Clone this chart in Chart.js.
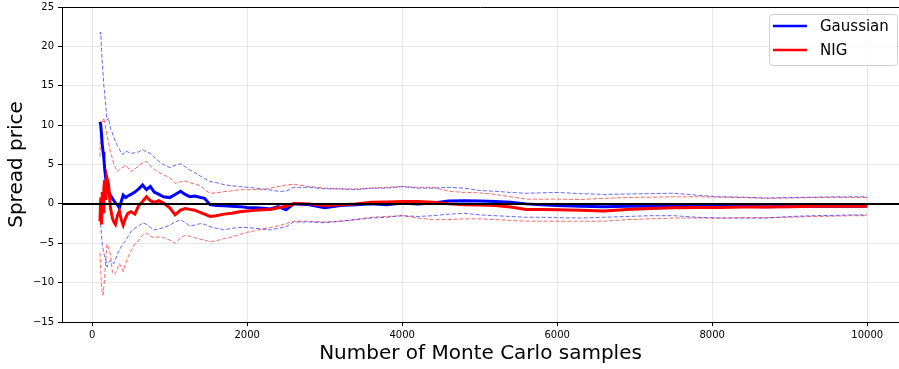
<!DOCTYPE html>
<html>
<head>
<meta charset="utf-8">
<script src="https://cdn.jsdelivr.net/npm/chart.js@4.4.0/dist/chart.umd.min.js"></script>
<style>
html, body { margin: 0; padding: 0; background: #fff; overflow: hidden; }
canvas { display: block; }
</style>
</head>
<body>
<canvas id="mc-chart" width="899" height="369"></canvas>
<script>
// number of Monte Carlo samples (x)
const samples = [100,110,120,130,140,150,160,175,190,210,235,260,280,300,325,350,375,400,430,460,
  500,550,600,650,700,750,800,860,920,1000,1070,1140,1200,1260,1320,1400,1450,1520,1600,1700,
  1800,1900,2000,2100,2200,2300,2400,2500,2600,2800,3000,3200,3400,3600,3800,4000,4200,4400,4600,4800,
  5000,5200,5400,5600,5800,6000,6300,6600,6900,7200,7500,7800,8100,8400,8700,9000,9300,9600,9800,10000];

// spread price estimates
const gaussMean = [10.4,10.0,8.8,7.5,6.6,5.8,4.5,3.2,2.3,1.6,1.1,0.7,0.4,0.1,-0.1,-0.5,0.3,1.1,0.8,1.0,
  1.2,1.5,1.9,2.4,1.8,2.2,1.5,1.2,0.9,0.8,1.2,1.6,1.2,0.9,1.0,0.8,0.7,-0.1,-0.2,-0.25,
  -0.3,-0.35,-0.45,-0.5,-0.55,-0.65,-0.35,-0.75,0.0,-0.1,-0.5,-0.2,-0.1,0.0,-0.1,0.1,0.0,0.1,0.35,0.4,
  0.35,0.3,0.2,0.0,-0.1,-0.2,-0.3,-0.35,-0.3,-0.3,-0.25,-0.3,-0.3,-0.3,-0.35,-0.3,-0.3,-0.3,-0.3,-0.3];
const nigMean = [-2.2,0.8,-2.6,1.5,-1.0,2.0,3.0,0.5,3.3,2.5,-0.5,-1.8,-2.3,-2.6,-1.5,-0.9,-2.0,-2.7,-1.8,-1.2,
  -1.0,-1.3,-0.2,0.3,0.9,0.4,0.2,0.4,0.1,-0.5,-1.4,-0.8,-0.6,-0.7,-0.8,-1.1,-1.3,-1.6,-1.5,-1.3,
  -1.2,-1.0,-0.9,-0.8,-0.75,-0.7,-0.5,-0.3,0.05,0.0,-0.2,-0.1,0.0,0.2,0.25,0.3,0.3,0.2,0.0,-0.1,
  -0.15,-0.2,-0.4,-0.7,-0.7,-0.75,-0.8,-0.9,-0.7,-0.6,-0.5,-0.45,-0.45,-0.4,-0.4,-0.35,-0.3,-0.3,-0.3,-0.3];

// confidence bounds
const gaussUpper = [21.5,21.8,19.5,17.8,16.5,15.0,14.0,12.5,10.6,10.9,9.6,9.0,8.4,7.9,7.4,7.0,6.4,6.3,6.7,6.6,
  6.4,6.5,6.6,6.9,6.6,6.4,5.9,5.4,5.0,4.6,4.9,5.1,4.7,4.3,4.0,3.5,3.2,2.85,2.7,2.45,
  2.3,2.2,2.1,2.0,1.9,1.75,1.6,1.6,2.1,2.1,1.9,1.9,1.8,2.0,2.0,2.2,2.0,2.0,2.1,2.0,
  1.7,1.6,1.45,1.35,1.4,1.45,1.3,1.2,1.25,1.3,1.35,1.1,0.9,0.85,0.75,0.8,0.85,0.9,0.9,0.9];
const gaussLower = [-1.0,-2.8,-4.0,-5.1,-5.8,-6.3,-6.6,-7.0,-8.0,-7.5,-7.2,-7.4,-7.6,-7.0,-6.4,-5.9,-5.4,-5.0,-4.7,-4.2,
  -3.5,-3.1,-2.8,-2.4,-2.6,-3.0,-3.3,-3.2,-3.0,-2.7,-2.3,-2.0,-2.4,-2.8,-2.7,-2.5,-2.6,-2.9,-3.1,-3.3,
  -3.1,-3.0,-3.0,-3.1,-3.2,-3.3,-3.1,-2.9,-2.3,-2.3,-2.4,-2.2,-2.0,-1.8,-1.7,-1.5,-1.6,-1.5,-1.3,-1.2,
  -1.4,-1.5,-1.6,-1.7,-1.7,-1.75,-1.8,-1.7,-1.6,-1.5,-1.5,-1.7,-1.8,-1.8,-1.8,-1.6,-1.5,-1.45,-1.4,-1.4];
const nigUpper = [6.0,10.5,10.0,10.4,10.6,10.9,10.3,9.5,8.8,7.8,6.6,5.8,5.0,4.6,4.1,4.3,4.5,4.7,4.9,4.6,
  4.1,4.4,4.9,5.2,5.4,4.8,4.4,4.0,3.7,3.3,2.6,2.8,2.9,2.7,2.5,2.3,1.8,1.35,1.4,1.55,
  1.65,1.8,1.8,1.8,1.8,2.0,2.2,2.4,2.5,2.2,2.0,1.9,1.9,2.0,2.1,2.2,2.1,2.1,1.6,1.45,
  1.4,1.2,0.9,0.6,0.6,0.6,0.55,0.7,0.8,0.85,0.9,0.9,0.85,0.8,0.7,0.75,0.8,0.8,0.8,0.8];
const nigLower = [-6.2,-8.5,-10.6,-11.2,-11.6,-10.5,-9.4,-7.0,-5.1,-5.6,-6.4,-8.6,-9.0,-8.8,-8.2,-7.6,-8.0,-8.6,-7.6,-6.8,
  -6.0,-5.1,-4.6,-4.0,-3.7,-4.1,-4.3,-4.2,-4.3,-4.6,-5.0,-4.3,-4.0,-4.1,-4.3,-4.5,-4.6,-4.8,-4.7,-4.4,
  -4.2,-3.9,-3.6,-3.4,-3.2,-3.0,-2.8,-2.5,-2.2,-2.2,-2.3,-2.2,-2.0,-1.7,-1.6,-1.5,-1.8,-2.0,-2.0,-1.9,
  -1.9,-2.0,-2.1,-2.2,-2.2,-2.2,-2.2,-2.2,-2.0,-1.9,-1.8,-1.8,-1.8,-1.75,-1.75,-1.7,-1.6,-1.55,-1.5,-1.5];

const seriesNames = ['Gaussian', 'NIG'];
const xTicks = [0, 2000, 4000, 6000, 8000, 10000];
const yTicks = [-15, -10, -5, 0, 5, 10, 15, 20, 25];

const pts = ys => samples.map((x, i) => ({x: x, y: ys[i]}));
const FONT = 'DejaVu Sans';

// black line at zero and the top spine
const extras = {
	id: 'extras',
	afterDatasetsDraw(chart) {
		const ctx = chart.ctx, a = chart.chartArea;
		const y0 = chart.scales.y.getPixelForValue(0);
		ctx.save();
		ctx.strokeStyle = '#000';
		ctx.lineWidth = 2;
		ctx.beginPath(); ctx.moveTo(a.left, y0); ctx.lineTo(a.right, y0); ctx.stroke();
		ctx.lineWidth = 1;
		ctx.beginPath(); ctx.moveTo(a.left, a.top + 0.5); ctx.lineTo(a.right, a.top + 0.5); ctx.stroke();
		ctx.restore();
	}
};

// legend box in the upper right corner
const legendBox = {
	id: 'legendBox',
	afterDraw(chart) {
		const ctx = chart.ctx, a = chart.chartArea;
		const items = chart.data.datasets.filter(d => d.inLegend);
		const w = 128, h = 51, x = a.right - w - 2, y = a.top + 7;
		ctx.save();
		ctx.beginPath();
		ctx.roundRect(x + 0.5, y + 0.5, w, h, 3);
		ctx.fillStyle = 'rgba(255,255,255,0.8)';
		ctx.fill();
		ctx.strokeStyle = 'rgba(204,204,204,0.9)';
		ctx.lineWidth = 1;
		ctx.stroke();
		ctx.font = '15px "' + FONT + '"';
		ctx.textBaseline = 'middle';
		items.forEach((d, i) => {
			const ly = y + 12 + i * 24;
			ctx.strokeStyle = d.borderColor;
			ctx.lineWidth = 2.5;
			ctx.beginPath(); ctx.moveTo(x + 4, ly); ctx.lineTo(x + 38, ly); ctx.stroke();
			ctx.fillStyle = '#000';
			ctx.fillText(d.label, x + 51, ly + 1);
		});
		ctx.restore();
	}
};

const dashed = {borderWidth: 1, borderDash: [4, 2], order: 3};

let config = {
	type: 'line',
	data: {datasets: [
		{label: seriesNames[0], data: pts(gaussMean), borderColor: '#0000ff', borderWidth: 3, order: 2, inLegend: true},
		{label: seriesNames[1], data: pts(nigMean), borderColor: '#ff0000', borderWidth: 3, order: 1, inLegend: true},
		{label: 'Gaussian upper', data: pts(gaussUpper), borderColor: 'rgba(0,0,255,0.6)', ...dashed},
		{label: 'Gaussian lower', data: pts(gaussLower), borderColor: 'rgba(0,0,255,0.6)', ...dashed},
		{label: 'NIG upper', data: pts(nigUpper), borderColor: 'rgba(255,0,0,0.6)', ...dashed},
		{label: 'NIG lower', data: pts(nigLower), borderColor: 'rgba(255,0,0,0.6)', ...dashed},
	]},
	options: {
		responsive: false,
		animation: false,
		layout: {padding: {top: 7, right: 0, left: 0, bottom: 0}},
		elements: {point: {radius: 0}, line: {tension: 0}},
		plugins: {legend: {display: false}, tooltip: {enabled: false}},
		scales: {
			x: {
				type: 'linear', min: -390, max: 10410,
				afterBuildTicks: s => { s.ticks = xTicks.map(v => ({value: v})); },
				afterFit: s => { s.height = 47; },
				grid: {color: 'rgba(176,176,176,0.3)', tickColor: '#000', tickLength: 4},
				border: {color: '#000', width: 1},
				ticks: {color: '#000', font: {family: FONT, size: 10}, padding: 3, maxRotation: 0, callback: v => String(v)},
				title: {display: true, text: 'Number of Monte Carlo samples', color: '#000', font: {family: FONT, size: 20}, padding: {top: 0, bottom: 3}}
			},
			y: {
				type: 'linear', min: -15, max: 25,
				afterBuildTicks: s => { s.ticks = yTicks.map(v => ({value: v})); },
				afterFit: s => { s.width = 62; },
				grid: {color: 'rgba(176,176,176,0.3)', tickColor: '#000', tickLength: 4},
				border: {color: '#000', width: 1},
				ticks: {color: '#000', font: {family: FONT, size: 10, lineHeight: 0.5}, padding: 4, callback: v => (v < 0 ? '\u2212' + Math.abs(v) : String(v))},
				title: {display: true, text: 'Spread price', color: '#000', font: {family: FONT, size: 20}, padding: {top: 5, bottom: 0}}
			}
		}
	},
	plugins: [extras, legendBox]
};

const myChart = new Chart(document.getElementById('mc-chart'), config);
</script>
</body>
</html>
